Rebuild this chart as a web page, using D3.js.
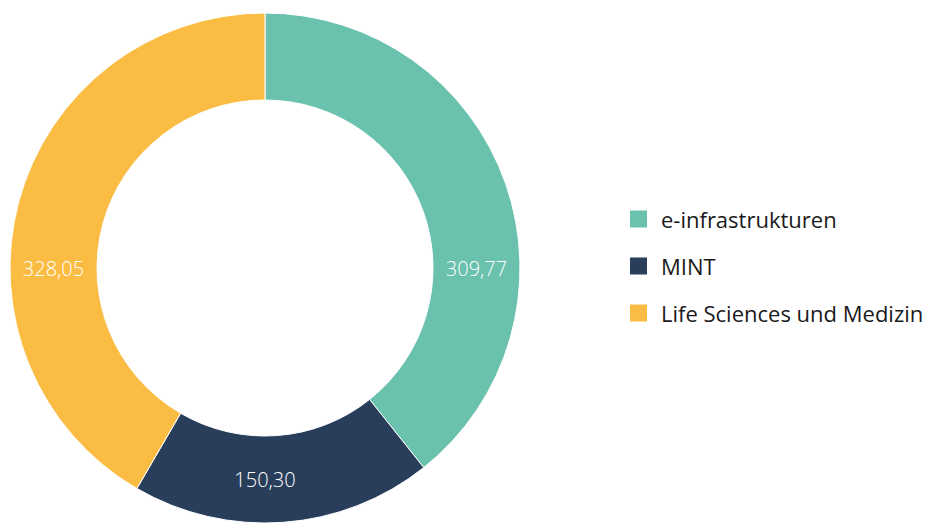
<!DOCTYPE html>
<html>
<head>
<meta charset="utf-8">
<script src="https://cdn.jsdelivr.net/npm/d3@7"></script>
<style>
  body { margin: 0; background: #fff; }
  svg { font-family: "Open Sans", "Noto Sans", sans-serif; }
</style>
</head>
<body>
<svg width="925" height="523"></svg>
<script>
"use strict";
const categories = ["e-infrastrukturen", "MINT", "Life Sciences und Medizin"];
const values = [309.77, 150.30, 328.05];
const labels = ["309,77", "150,30", "328,05"];
const colors = ["#6ac1ae", "#293e5a", "#fbbc43"];

window.addEventListener("load", drawDonut);

function drawDonut() {
    const svg = d3.select("svg");
    const cx = 265, cy = 268;
    const outer = 255, inner = 168;

    const pie = d3.pie().sort(null).value(d => d);
    const arc = d3.arc().innerRadius(inner).outerRadius(outer);
    const arcs = pie(values);

    const g = svg.append("g").attr("transform", `translate(${cx},${cy})`);

    g.selectAll("path")
        .data(arcs)
        .join("path")
        .attr("d", arc)
        .attr("fill", (d, i) => colors[i])
        .attr("stroke", "#fff")
        .attr("stroke-width", 1);

    // labels sit at the cardinal direction nearest to each slice's middle
    const mid = (inner + outer) / 2;
    g.selectAll("text.val")
        .data(arcs)
        .join("text")
        .attr("class", "val")
        .attr("transform", d => {
            const a = Math.round((d.startAngle + d.endAngle) / 2 / (Math.PI / 2)) * (Math.PI / 2);
            return `translate(${mid * Math.sin(a)},${-mid * Math.cos(a)})`;
        })
        .attr("text-anchor", "middle")
        .attr("dominant-baseline", "central")
        .attr("fill", "#fff")
        .attr("font-size", 20)
        .attr("font-weight", 300)
        .text((d, i) => labels[i]);

    const legendY = d3.scalePoint().domain(categories).range([219, 313]);
    const legend = svg.append("g").selectAll("g")
        .data(categories)
        .join("g")
        .attr("transform", d => `translate(630,${legendY(d)})`);
    legend.append("rect")
        .attr("x", 0).attr("y", -8.5)
        .attr("width", 17).attr("height", 17)
        .attr("fill", (d, i) => colors[i]);
    legend.append("text")
        .attr("x", 31)
        .attr("dominant-baseline", "central")
        .attr("fill", "#1a1a1a")
        .attr("font-size", 22)
        .attr("font-weight", 400)
        .text(d => d);
}
</script>
</body>
</html>
